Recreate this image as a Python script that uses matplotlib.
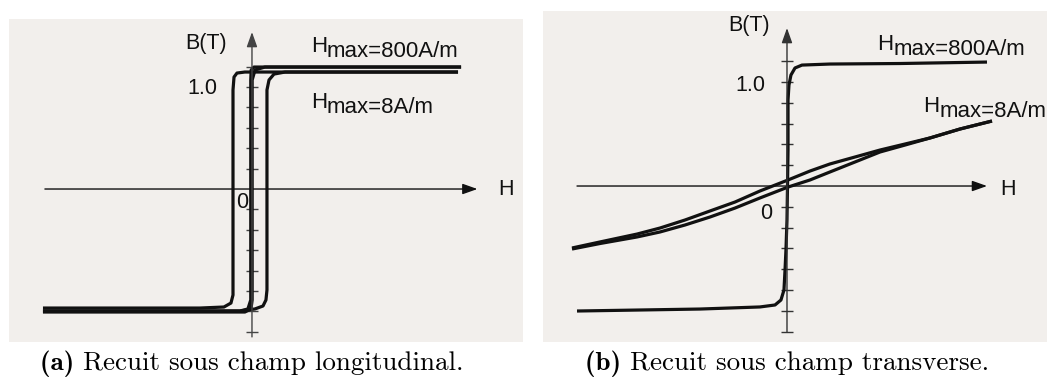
import numpy as np
import matplotlib
matplotlib.use("Agg")
import matplotlib.pyplot as plt
from matplotlib.patches import ArrowStyle

# ---------------- data (H in arbitrary units, B in T) ----------------
# Panel (a): annealing under longitudinal field
a_800_desc_H = [2.02, -0.07, -0.147, -0.176, -0.186, -0.186, -0.206, -0.275, -0.51, -2.049]
a_800_desc_B = [1.147, 1.147, 1.137, 1.098, 0.971, -1.039, -1.118, -1.157, -1.167, -1.167]
a_800_asc_H = [-2.049, -0.118, 0.029, 0.108, 0.137, 0.147, 0.147, 0.167, 0.216, 0.324, 2.02]
a_800_asc_B = [-1.196, -1.196, -1.176, -1.147, -1.088, -0.99, 0.971, 1.069, 1.127, 1.147, 1.147]
a_8_desc_H = [2.05, 0.02, -0.008, -0.012, -0.012, -0.04, -0.118, -2.049]
a_8_desc_B = [1.196, 1.196, 1.167, 1.069, -1.088, -1.176, -1.196, -1.196]
a_8_asc_H = [-2.049, -0.069, -0.01, 0.002, 0.002, 0.03, 0.127, 2.05]
a_8_asc_B = [-1.206, -1.206, -1.176, -1.088, 1.069, 1.167, 1.196, 1.196]

# Panel (b): annealing under transverse field
b_800_H = [-2.019, -0.837, -0.26, -0.115, -0.058, -0.029, -0.019, -0.01, 0.0,
           0.01, 0.01, 0.019, 0.038, 0.077, 0.144, 0.413, 1.087, 1.923]
b_800_B = [-1.202, -1.183, -1.163, -1.144, -1.096, -1.0, -0.808, -0.615, -0.327,
           0.346, 0.827, 0.971, 1.067, 1.135, 1.163, 1.173, 1.178, 1.192]
b_8_up_H = [1.971, 1.663, 1.375, 1.135, 0.894, 0.654, 0.413, 0.221, 0.01, -0.26,
            -0.5, -0.74, -0.981, -1.221, -1.442, -1.798, -2.067]
b_8_up_B = [0.625, 0.548, 0.462, 0.404, 0.346, 0.279, 0.212, 0.144, 0.058, -0.048,
            -0.154, -0.24, -0.327, -0.404, -0.462, -0.538, -0.596]
b_8_lo_H = [-2.067, -1.798, -1.442, -1.221, -0.981, -0.74, -0.5, -0.26, 0.01, 0.221,
            0.413, 0.654, 0.894, 1.135, 1.375, 1.663, 1.971]
b_8_lo_B = [-0.606, -0.553, -0.49, -0.442, -0.375, -0.298, -0.212, -0.115, -0.01, 0.058,
            0.135, 0.231, 0.327, 0.394, 0.462, 0.548, 0.625]

b_ticks = [1.2, 1.0, 0.8, 0.6, 0.4, 0.2, -0.2, -0.4, -0.6, -0.8, -1.0, -1.2, -1.4]
label_1 = "1.0"
label_0 = "0"
label_B = "B(T)"
label_H = "H"
label_800 = "max=800A/m"
label_8 = "max=8A/m"
caption_a = ("(a)", "Recuit sous champ longitudinal.")
caption_b = ("(b)", "Recuit sous champ transverse.")

# ---------------- figure ----------------
W, Hpx = 1047, 378
fig = plt.figure(figsize=(W / 100, Hpx / 100), dpi=100)
fig.patch.set_facecolor("white")

BG = "#f2efec"
INK = "#111111"
SANS = ["Liberation Sans", "DejaVu Sans"]
FS = 15.5
FS_H = 16


def make_ax(x0, y0, x1, y1, xlim, ylim):
    ax = fig.add_axes([x0 / W, 1 - y1 / Hpx, (x1 - x0) / W, (y1 - y0) / Hpx])
    ax.set_facecolor(BG)
    for s in ax.spines.values():
        s.set_visible(False)
    ax.set_xticks([])
    ax.set_yticks([])
    ax.set_xlim(*xlim)
    ax.set_ylim(*ylim)
    return ax


def draw_axes(ax, hx0, hx1, vy0, vy1, vcolor):
    style = ArrowStyle("-|>", head_length=0.9, head_width=0.32)
    ax.annotate("", xy=(hx1, 0), xytext=(hx0, 0),
                arrowprops=dict(arrowstyle=style, lw=1.0, color=INK,
                                shrinkA=0, shrinkB=0, mutation_scale=10))
    ax.annotate("", xy=(0, vy1), xytext=(0, vy0),
                arrowprops=dict(arrowstyle=style, lw=1.0, color=vcolor,
                                shrinkA=0, shrinkB=0, mutation_scale=10))
    ax.plot(np.zeros(len(b_ticks)), b_ticks, ls="none", marker="_",
            ms=8.5, mew=1.0, color=vcolor)


def hmax_label(ax, x, y, rest):
    t = ax.text(x, y, "H", fontsize=FS_H, family=SANS, color=INK,
                ha="left", va="baseline")
    ax.annotate(rest, xy=(1, 0), xycoords=t, xytext=(0, -5),
                textcoords="offset pixels", fontsize=FS_H, family=SANS,
                color=INK, ha="left", va="bottom")


LW = 2.3

# ---------- panel (a) ----------
axa = make_ax(9, 19, 523, 342, (-2.382, 2.657), (-1.5, 1.667))
draw_axes(axa, -2.03, 2.21, -1.45, 1.539, "#444444")
for h, b in [(a_800_desc_H, a_800_desc_B), (a_800_asc_H, a_800_asc_B),
             (a_8_desc_H, a_8_desc_B), (a_8_asc_H, a_8_asc_B)]:
    axa.plot(h, b, color=INK, lw=LW, solid_joinstyle="round", solid_capstyle="butt")
axa.text(-0.245, 1.431, label_B, fontsize=FS, family=SANS, color=INK, ha="right", va="center")
axa.text(-0.343, 0.99, label_1, fontsize=FS, family=SANS, color=INK, ha="right", va="center")
axa.text(-0.04, -0.137, label_0, fontsize=FS, family=SANS, color=INK, ha="right", va="center")
axa.text(2.41, 0.0, label_H, fontsize=FS, family=SANS, color=INK, ha="left", va="center")
hmax_label(axa, 0.578, 1.343, label_800)
hmax_label(axa, 0.578, 0.794, label_8)

# ---------- panel (b) ----------
axb = make_ax(543, 11, 1047, 342, (-2.346, 2.5), (-1.5, 1.683))
draw_axes(axb, -2.019, 1.923, -1.404, 1.519, "#333333")
for h, b in [(b_800_H, b_800_B), (b_8_up_H, b_8_up_B), (b_8_lo_H, b_8_lo_B)]:
    axb.plot(h, b, color=INK, lw=LW, solid_joinstyle="round", solid_capstyle="butt")
axb.text(-0.163, 1.548, label_B, fontsize=FS, family=SANS, color=INK, ha="right", va="center")
axb.text(-0.212, 0.971, label_1, fontsize=FS, family=SANS, color=INK, ha="right", va="center")
axb.text(-0.144, -0.26, label_0, fontsize=FS, family=SANS, color=INK, ha="right", va="center")
axb.text(2.048, -0.038, label_H, fontsize=FS, family=SANS, color=INK, ha="left", va="center")
hmax_label(axb, 0.865, 1.308, label_800)
hmax_label(axb, 1.308, 0.712, label_8)


# ---------- captions ----------
def caption(cx, parts):
    y = 1 - 370 / Hpx
    t1 = fig.text(0, y, parts[0] + " ", fontsize=19.5, family="cmb10", color="black",
                  ha="left", va="baseline")
    t2 = fig.text(0, y, parts[1], fontsize=19.5, family="cmr10", color="black",
                  ha="left", va="baseline")
    r = fig.canvas.get_renderer()
    w1 = t1.get_window_extent(r).width
    w2 = t2.get_window_extent(r).width
    start = cx - (w1 + w2) / 2
    t1.set_x(start / W)
    t2.set_x((start + w1) / W)


caption(252, caption_a)
caption(787, caption_b)

fig.savefig("out.png", dpi=100, facecolor="white")
